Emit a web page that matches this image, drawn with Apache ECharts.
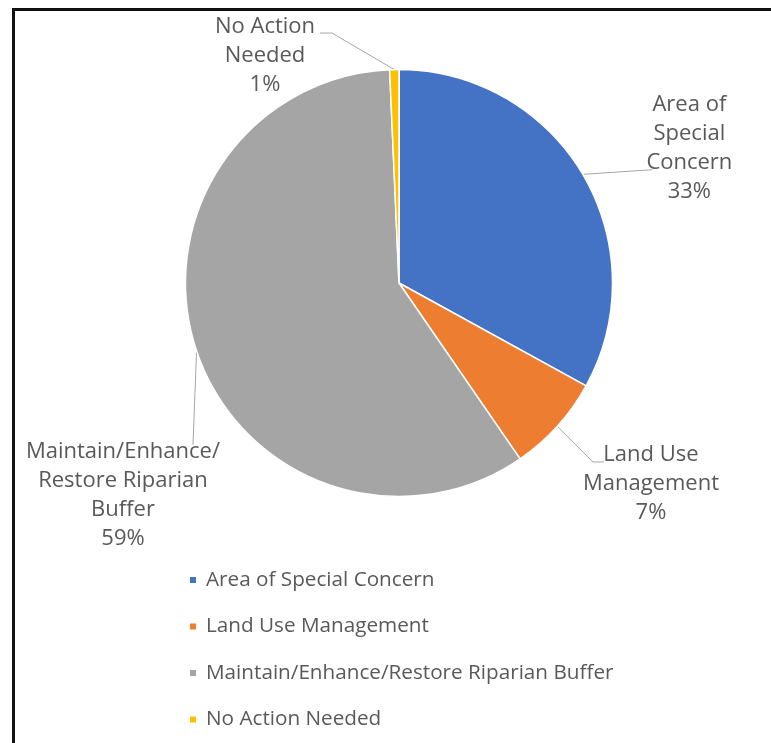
<!DOCTYPE html>
<html><head><meta charset="utf-8">
<script src="https://cdn.jsdelivr.net/npm/echarts@6/dist/echarts.min.js"></script>
<style>
html,body{margin:0;padding:0;background:#fff;}
#chart{position:absolute;left:0;top:0;width:771px;height:743px;}
#frame{position:absolute;left:12px;top:8px;width:759px;height:735px;border-left:3px solid #111;border-top:3px solid #111;box-sizing:border-box;pointer-events:none;}
</style></head><body>
<div id="chart"></div><div id="frame"></div>
<script>
// ---- data ----
const categories = ['Area of Special Concern', 'Land Use Management', 'Maintain/Enhance/Restore Riparian Buffer', 'No Action Needed'];
const labelNames = ['Area of\nSpecial\nConcern', 'Land Use\nManagement', 'Maintain/Enhance/\nRestore Riparian\nBuffer', 'No Action\nNeeded'];
const values = [33.0, 7.4, 58.9, 0.7];
const colors = ['#4472C4', '#ED7D31', '#A5A5A5', '#FFC000'];

// ---- leader-line / label offsets relative to the slice edge point (style only) ----
const leader = [
  { knee: [69.6, -4.6], end: [69.6, -4.6], lab: [106.6, -83.6] },
  { knee: [35.6, 35.8], end: [46.6, 35.8], lab: [93.6, 14.3] },
  { knee: [-3.6, 94], end: [-3.6, 94], lab: [-73.6, 86.6] },
  { knee: [-62.3, -36.5], end: [-74.3, -36.5], lab: [-129.3, -57] }
];

const chart = echarts.init(document.getElementById('chart'), null, { renderer: 'canvas' });
const font = "'Open Sans', 'Liberation Sans', sans-serif";
chart.setOption({
  backgroundColor: 'transparent',
  animation: false,
  color: colors,
  legend: {
    orient: 'vertical',
    left: 188,
    top: 568,
    padding: 0,
    icon: 'rect',
    itemWidth: 8,
    itemHeight: 8,
    itemGap: 22.5,
    data: categories,
    textStyle: { fontFamily: font, fontSize: 20.7, color: '#595959', lineHeight: 24, padding: [0, 0, 0, 4] }
  },
  series: [{
    type: 'pie',
    center: [399, 283],
    radius: 213.5,
    startAngle: 90,
    clockwise: true,
    avoidLabelOverlap: false,
    percentPrecision: 0,
    itemStyle: { borderColor: '#ffffff', borderWidth: 1.5 },
    label: {
      show: true,
      position: 'outside',
      formatter: function (p) { return labelNames[p.dataIndex] + '\n' + p.percent + '%'; },
      fontFamily: font,
      fontSize: 22,
      lineHeight: 29,
      color: '#595959'
    },
    labelLine: { show: true, length: 10, length2: 10, lineStyle: { color: '#a6a6a6', width: 1 } },
    labelLayout: function (params) {
      const L = leader[params.dataIndex];
      const p0 = params.labelLinePoints[0];
      return {
        x: p0[0] + L.lab[0],
        y: p0[1] + L.lab[1],
        align: 'center',
        verticalAlign: 'top',
        labelLinePoints: [
          [p0[0], p0[1]],
          [p0[0] + L.knee[0], p0[1] + L.knee[1]],
          [p0[0] + L.end[0], p0[1] + L.end[1]]
        ]
      };
    },
    emphasis: { disabled: true },
    data: categories.map(function (c, i) { return { name: c, value: values[i] }; })
  }]
});
</script>
</body></html>
